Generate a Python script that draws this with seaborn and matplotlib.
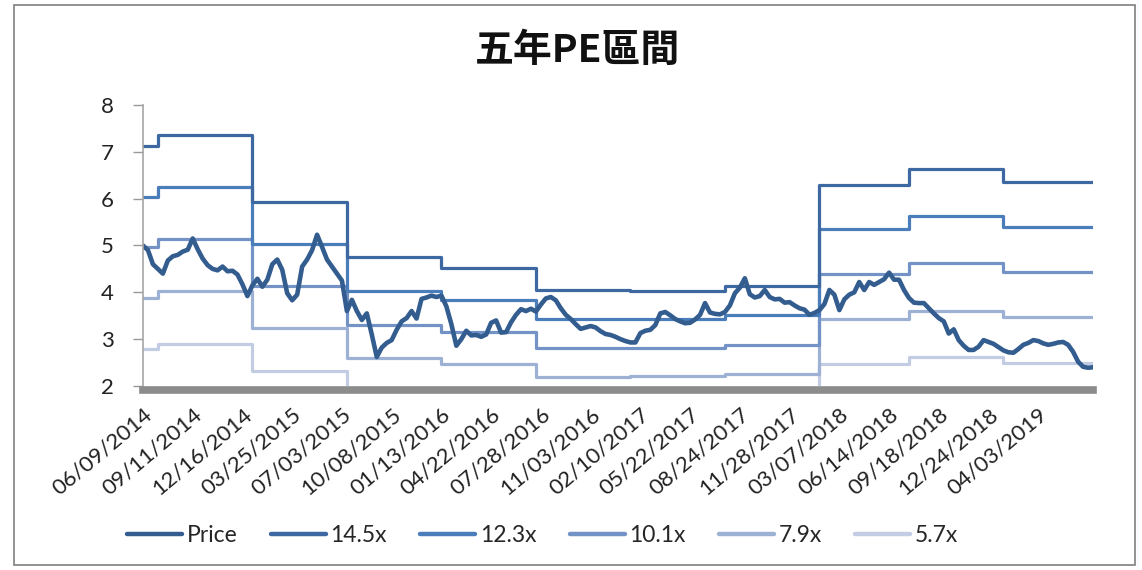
import numpy as np
import pandas as pd
import matplotlib
matplotlib.use("Agg")
import matplotlib.pyplot as plt
import seaborn as sns
from matplotlib.patches import Rectangle
from matplotlib.lines import Line2D

# ---------------- data ----------------
tick_labels = ["06/09/2014", "09/11/2014", "12/16/2014", "03/25/2015", "07/03/2015",
               "10/08/2015", "01/13/2016", "04/22/2016", "07/28/2016", "11/03/2016",
               "02/10/2017", "05/22/2017", "08/24/2017", "11/28/2017", "03/07/2018",
               "06/14/2018", "09/18/2018", "12/24/2018", "04/03/2019"]
samples_per_label = 10

price = [5.00, 4.90, 4.60, 4.50, 4.40, 4.68, 4.77, 4.80, 4.87, 4.91,
         5.15, 4.92, 4.72, 4.58, 4.50, 4.47, 4.55, 4.45, 4.46, 4.38,
         4.17, 3.92, 4.15, 4.29, 4.12, 4.27, 4.60, 4.70, 4.48, 3.98,
         3.83, 3.95, 4.55, 4.70, 4.90, 5.23, 4.97, 4.70, 4.55, 4.40,
         4.25, 3.60, 3.84, 3.60, 3.41, 3.55, 3.10, 2.62, 2.82, 2.92,
         2.98, 3.20, 3.38, 3.45, 3.60, 3.44, 3.86, 3.89, 3.93, 3.90,
         3.93, 3.70, 3.32, 2.86, 3.00, 3.18, 3.08, 3.09, 3.05, 3.10,
         3.35, 3.40, 3.14, 3.15, 3.36, 3.52, 3.64, 3.60, 3.65, 3.59,
         3.74, 3.87, 3.90, 3.83, 3.66, 3.52, 3.43, 3.32, 3.22, 3.25,
         3.28, 3.25, 3.17, 3.11, 3.09, 3.05, 3.00, 2.96, 2.93, 2.93,
         3.13, 3.18, 3.20, 3.30, 3.55, 3.58, 3.51, 3.43, 3.38, 3.34,
         3.35, 3.42, 3.52, 3.77, 3.57, 3.54, 3.53, 3.58, 3.72, 3.98,
         4.10, 4.30, 3.96, 3.89, 3.92, 4.05, 3.90, 3.85, 3.86, 3.78,
         3.79, 3.72, 3.66, 3.63, 3.52, 3.56, 3.62, 3.75, 4.05, 3.95,
         3.62, 3.85, 3.95, 4.00, 4.22, 4.05, 4.22, 4.16, 4.22, 4.28,
         4.42, 4.27, 4.27, 4.05, 3.88, 3.78, 3.77, 3.77, 3.66, 3.55,
         3.45, 3.38, 3.12, 3.21, 2.98, 2.86, 2.77, 2.77, 2.84, 2.98,
         2.94, 2.90, 2.83, 2.76, 2.72, 2.71, 2.79, 2.88, 2.92, 2.98,
         2.96, 2.91, 2.88, 2.90, 2.93, 2.94, 2.88, 2.73, 2.52, 2.41,
         2.39, 2.40]

# PE band segments: start sample of each segment and the level of each band
segment_starts = [0, 3, 22, 41, 60, 79, 98, 117, 136, 154, 173]
band_names = ["14.5x", "12.3x", "10.1x", "7.9x", "5.7x"]
band_145 = [7.12, 7.37, 5.93, 4.75, 4.52, 4.04, 4.03, 4.13, 6.30, 6.63, 6.36]
band_123 = [6.04, 6.25, 5.03, 4.03, 3.83, 3.43, 3.43, 3.51, 5.35, 5.62, 5.40]
band_101 = [4.96, 5.14, 4.13, 3.31, 3.15, 2.81, 2.82, 2.88, 4.40, 4.62, 4.44]
band_79 = [3.88, 4.02, 3.23, 2.59, 2.46, 2.20, 2.22, 2.25, 3.44, 3.61, 3.47]
band_57 = [2.80, 2.90, 2.33, 1.87, 1.78, 1.58, 1.60, 1.63, 2.48, 2.61, 2.50]

colors = {"Price": "#335C8F", "14.5x": "#3D68A2", "12.3x": "#4A7DBA",
          "10.1x": "#7393C6", "7.9x": "#9DB1D5", "5.7x": "#C2CDE4"}

# ---------------- build table ----------------
n = len(price)
idx = np.arange(n)
seg_len = np.diff(segment_starts + [n])
df_price = pd.DataFrame({"i": idx, "value": price})
band_frames = []
for name, lv in zip(band_names, [band_145, band_123, band_101, band_79, band_57]):
    band_frames.append(pd.DataFrame({"i": idx, "value": np.repeat(lv, seg_len), "series": name}))
df_bands = pd.concat(band_frames, ignore_index=True)

# ---------------- plot ----------------
sns.set_theme(style="white")
plt.rcParams["font.family"] = ["Lato", "DejaVu Sans"]

fig = plt.figure(figsize=(11.42, 5.70), dpi=100)
ax = fig.add_axes([0.1252, 0.3228, 0.8319, 0.493])

for name in band_names[::-1]:
    d = df_bands[df_bands["series"] == name]
    sns.lineplot(data=d, x="i", y="value", ax=ax, color=colors[name], lw=2.3,
                 drawstyle="steps-post", legend=False, solid_joinstyle="round")
sns.lineplot(data=df_price, x="i", y="value", ax=ax, color=colors["Price"], lw=3.3,
             legend=False, solid_joinstyle="round", solid_capstyle="round")

ax.set_xlim(0, n - 1)
ax.set_ylim(2, 8)
ax.set_xlabel("")
ax.set_ylabel("")
ax.set_yticks(range(2, 9))
ax.set_yticklabels([str(v) for v in range(2, 9)])
ax.set_xticks(np.arange(len(tick_labels)) * samples_per_label, labels=tick_labels)
ax.tick_params(axis="y", which="major", direction="out", length=7, width=1,
               color="#999999", pad=14, left=True, labelsize=16, labelcolor="#222222")
ax.tick_params(axis="x", length=0, pad=10, labelsize=16, labelcolor="#222222")
for s in ["top", "right"]:
    ax.spines[s].set_visible(False)
ax.spines["left"].set_color("#A6A6A6")
ax.spines["left"].set_linewidth(1.2)
ax.spines["bottom"].set_color("#8C8C8C")
ax.spines["bottom"].set_linewidth(5.5)
ax.spines["bottom"].set_position(("outward", 3))
ax.grid(False)

fig.text(0.506, 0.912, "五年PE區間", ha="center", va="center", fontsize=28,
         fontweight="bold", family=["Noto Sans CJK TC", "DejaVu Sans"], color="#111111")

handles = [Line2D([0], [0], color=colors[k], lw=3.2, solid_capstyle="round")
           for k in ["Price"] + band_names]
fig.legend(handles, ["Price"] + band_names, loc="center", bbox_to_anchor=(0.475, 0.06),
           ncol=6, frameon=False, fontsize=16.5, handlelength=2.4, handletextpad=0.2,
           columnspacing=1.45)

fig.patches.append(Rectangle((0.012, 0.008), 0.982, 0.984, transform=fig.transFigure,
                             fill=False, edgecolor="#7F7F7F", lw=1.2))

fig.canvas.draw()
for lab in ax.get_xticklabels():
    lab.set_rotation(40)
    lab.set_horizontalalignment("right")
    lab.set_rotation_mode("anchor")

fig.savefig("out.png", dpi=100)
